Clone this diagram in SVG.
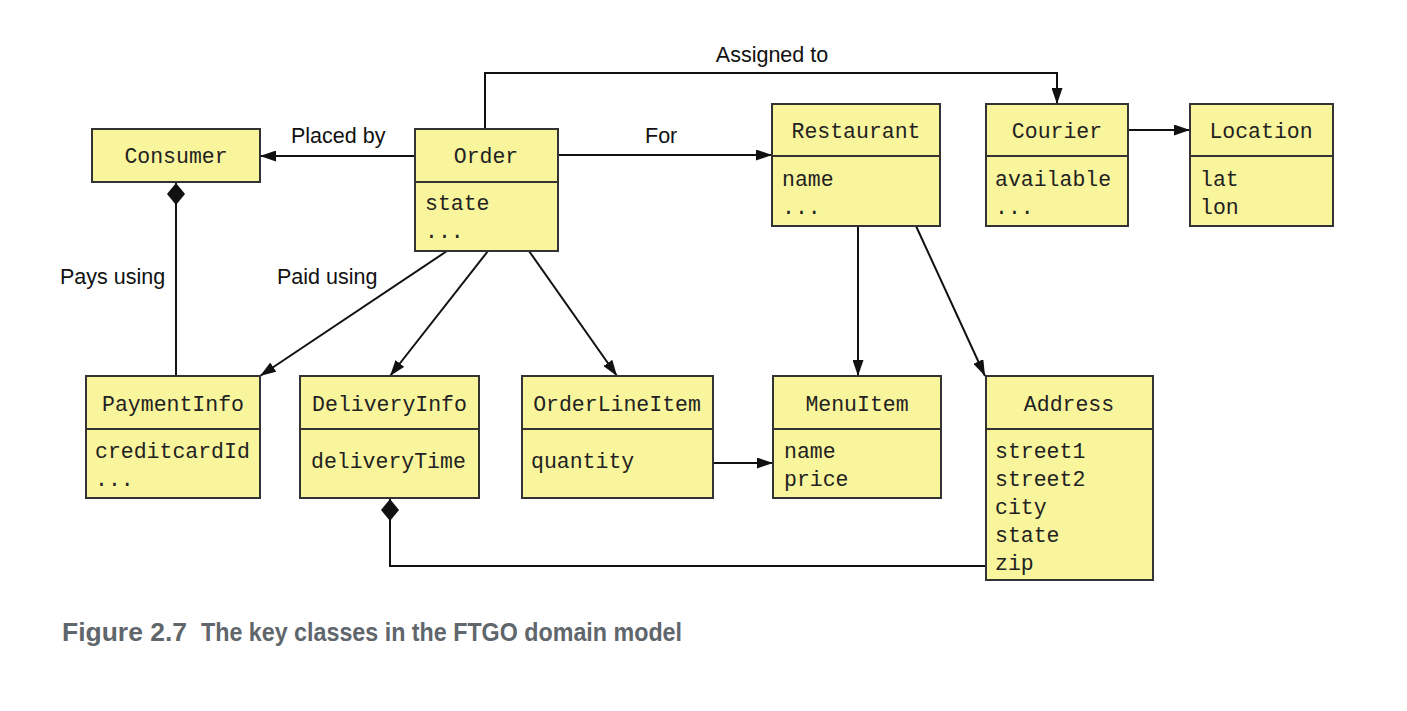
<svg xmlns="http://www.w3.org/2000/svg" width="1407" height="711" viewBox="0 0 1407 711">
<style>
.box{fill:#f9f59c;stroke:#333;stroke-width:2}
.div{stroke:#333;stroke-width:2}
.name{font-family:"Liberation Mono","Courier New",monospace;font-size:21.5px;fill:#222;text-anchor:middle}
.attr{font-family:"Liberation Mono","Courier New",monospace;font-size:21.5px;fill:#222}
.lbl{font-family:"Liberation Sans",Arial,sans-serif;font-size:21.5px;fill:#111}
.con{fill:none;stroke:#111;stroke-width:2}
.cap{font-family:"Liberation Sans Narrow","Liberation Sans",Arial,sans-serif;font-weight:bold;font-size:25px;fill:#5f666c}
</style>
<defs>
<marker id="arr" markerUnits="userSpaceOnUse" markerWidth="16" markerHeight="11" viewBox="0 0 16 11" refX="16" refY="5.5" orient="auto">
<path d="M0,0 L16,5.5 L0,11 Z" fill="#111"/>
</marker>
<marker id="dia" markerUnits="userSpaceOnUse" markerWidth="22" markerHeight="18" viewBox="0 0 22 18" refX="0" refY="9" orient="auto">
<path d="M0,9 L11,0 L22,9 L11,18 Z" fill="#111"/>
</marker>
</defs>
<rect width="1407" height="711" fill="#fff"/>
<g id="connectors">
<path class="con" d="M485,129 V73 H1057 V104" marker-end="url(#arr)"/>
<path class="con" d="M415,156 H260" marker-end="url(#arr)"/>
<path class="con" d="M558,155 H772" marker-end="url(#arr)"/>
<path class="con" d="M1128,130 H1190" marker-end="url(#arr)"/>
<path class="con" d="M176,183 V376" marker-start="url(#dia)"/>
<path class="con" d="M447,251 L260,376" marker-end="url(#arr)"/>
<path class="con" d="M488,251 L390,376" marker-end="url(#arr)"/>
<path class="con" d="M529,251 L617,376" marker-end="url(#arr)"/>
<path class="con" d="M858,226 V376" marker-end="url(#arr)"/>
<path class="con" d="M916,226 L985,376" marker-end="url(#arr)"/>
<path class="con" d="M713,463 H773" marker-end="url(#arr)"/>
<path class="con" d="M390,499 V566 H986" marker-start="url(#dia)"/>
<text class="lbl" x="772" y="62" text-anchor="middle">Assigned to</text>
<text class="lbl" x="291" y="143">Placed by</text>
<text class="lbl" x="645" y="143">For</text>
<text class="lbl" x="60" y="284">Pays using</text>
<text class="lbl" x="277" y="284">Paid using</text>
</g>
<g id="Consumer">
<rect class="box" x="92" y="129" width="168" height="53"/>
<text class="name" x="176" y="163">Consumer</text>
</g>
<g id="Order">
<rect class="box" x="415" y="129" width="143" height="122"/>
<line class="div" x1="415" y1="182" x2="558" y2="182"/>
<text class="name" x="486" y="163">Order</text>
<text class="attr" x="425" y="210">state</text>
<text class="attr" x="425" y="238">...</text>
</g>
<g id="Restaurant">
<rect class="box" x="772" y="104" width="168" height="122"/>
<line class="div" x1="772" y1="156" x2="940" y2="156"/>
<text class="name" x="856" y="138">Restaurant</text>
<text class="attr" x="782" y="186">name</text>
<text class="attr" x="782" y="214">...</text>
</g>
<g id="Courier">
<rect class="box" x="986" y="104" width="142" height="122"/>
<line class="div" x1="986" y1="156" x2="1128" y2="156"/>
<text class="name" x="1057" y="138">Courier</text>
<text class="attr" x="995" y="186">available</text>
<text class="attr" x="995" y="214">...</text>
</g>
<g id="Location">
<rect class="box" x="1190" y="104" width="143" height="122"/>
<line class="div" x1="1190" y1="156" x2="1333" y2="156"/>
<text class="name" x="1261" y="138">Location</text>
<text class="attr" x="1200" y="186">lat</text>
<text class="attr" x="1200" y="214">lon</text>
</g>
<g id="PaymentInfo">
<rect class="box" x="86" y="376" width="174" height="122"/>
<line class="div" x1="86" y1="429" x2="260" y2="429"/>
<text class="name" x="173" y="411">PaymentInfo</text>
<text class="attr" x="95" y="458">creditcardId</text>
<text class="attr" x="95" y="486">...</text>
</g>
<g id="DeliveryInfo">
<rect class="box" x="300" y="376" width="179" height="122"/>
<line class="div" x1="300" y1="429" x2="479" y2="429"/>
<text class="name" x="389.5" y="411">DeliveryInfo</text>
<text class="attr" x="311" y="468">deliveryTime</text>
</g>
<g id="OrderLineItem">
<rect class="box" x="522" y="376" width="191" height="122"/>
<line class="div" x1="522" y1="429" x2="713" y2="429"/>
<text class="name" x="617" y="411">OrderLineItem</text>
<text class="attr" x="531" y="468">quantity</text>
</g>
<g id="MenuItem">
<rect class="box" x="773" y="376" width="168" height="122"/>
<line class="div" x1="773" y1="429" x2="941" y2="429"/>
<text class="name" x="857" y="411">MenuItem</text>
<text class="attr" x="784" y="458">name</text>
<text class="attr" x="784" y="486">price</text>
</g>
<g id="Address">
<rect class="box" x="986" y="376" width="167" height="204"/>
<line class="div" x1="986" y1="429" x2="1153" y2="429"/>
<text class="name" x="1069" y="411">Address</text>
<text class="attr" x="995" y="458">street1</text>
<text class="attr" x="995" y="486">street2</text>
<text class="attr" x="995" y="514">city</text>
<text class="attr" x="995" y="542">state</text>
<text class="attr" x="995" y="570">zip</text>
</g>
<g id="caption">
<text class="cap" x="62" y="641" textLength="125" lengthAdjust="spacingAndGlyphs">Figure 2.7</text>
<text class="cap" x="201" y="641" textLength="481" lengthAdjust="spacingAndGlyphs">The key classes in the FTGO domain model</text>
</g>
</svg>
